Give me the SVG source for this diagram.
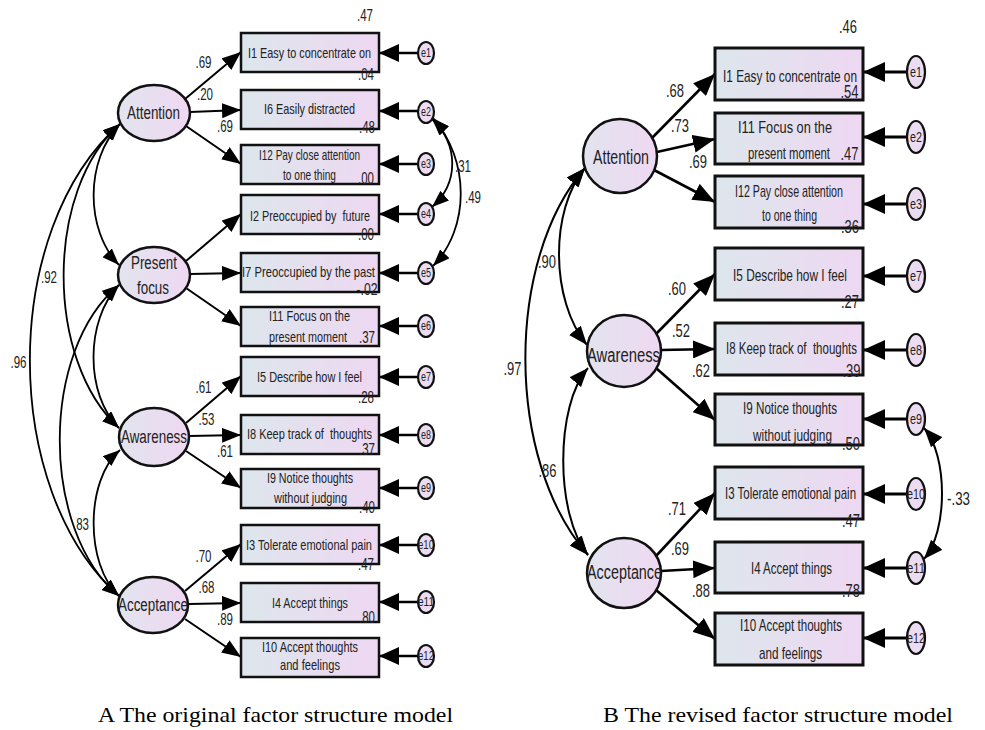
<svg xmlns="http://www.w3.org/2000/svg" width="985" height="730" viewBox="0 0 985 730">
<style>
.bx{fill:url(#gb);stroke:#111;stroke-width:2.5}
.bxB{fill:url(#gb);stroke:#111;stroke-width:3}
.el{fill:url(#ge);stroke:#111;stroke-width:2.5}
.er{fill:#ecdcf2;stroke:#111;stroke-width:2.2}
.ld{stroke:#000;stroke-width:2;fill:none;marker-end:url(#mA)}
.ldB{stroke:#000;stroke-width:2.6;fill:none;marker-end:url(#mB)}
.ea{stroke:#000;stroke-width:2.5;fill:none;marker-end:url(#mEA)}
.eaB{stroke:#000;stroke-width:3;fill:none;marker-end:url(#mEB)}
.cv{stroke:#000;stroke-width:1.8;fill:none;marker-start:url(#mC);marker-end:url(#mC)}
.cvB{stroke:#000;stroke-width:2;fill:none;marker-start:url(#mCB);marker-end:url(#mCB)}
text{font-family:"Liberation Sans",Arial,sans-serif;fill:#222;text-anchor:middle}
.t15{font-size:15px}
.t17{font-size:17px}
.t18{font-size:18px}
.t19{font-size:20px}
.n{font-size:17px}
.nB{font-size:19px}
.e{font-size:12px}
.eB{font-size:15px}
.cap{font-family:"Liberation Serif","Times New Roman",serif;font-size:21px;fill:#000;text-anchor:start}
.pre{white-space:pre}
</style>
<defs>
<linearGradient id="gb" x1="0" y1="0" x2="1" y2="0">
<stop offset="0" stop-color="#dde6ec"/>
<stop offset="1" stop-color="#eed8f2"/>
</linearGradient>
<linearGradient id="ge" x1="0" y1="0" x2="1" y2="0">
<stop offset="0" stop-color="#e2e4ef"/>
<stop offset="1" stop-color="#efd8f2"/>
</linearGradient>
<marker id="mA" viewBox="0 0 19 15" refX="19" refY="7.5" markerWidth="19" markerHeight="15" markerUnits="userSpaceOnUse" orient="auto"><path d="M0,0L19,7.5L0,15z" fill="#000"/></marker>
<marker id="mB" viewBox="0 0 22 18" refX="22" refY="9" markerWidth="22" markerHeight="18" markerUnits="userSpaceOnUse" orient="auto"><path d="M0,0L22,9L0,18z" fill="#000"/></marker>
<marker id="mEA" viewBox="0 0 20 18" refX="20" refY="9" markerWidth="20" markerHeight="18" markerUnits="userSpaceOnUse" orient="auto"><path d="M0,0L20,9L0,18z" fill="#000"/></marker>
<marker id="mEB" viewBox="0 0 22 20" refX="22" refY="10" markerWidth="22" markerHeight="20" markerUnits="userSpaceOnUse" orient="auto"><path d="M0,0L22,10L0,20z" fill="#000"/></marker>
<marker id="mC" viewBox="0 0 17 13" refX="17" refY="6.5" markerWidth="17" markerHeight="13" markerUnits="userSpaceOnUse" orient="auto-start-reverse"><path d="M0,0L17,6.5L0,13z" fill="#000"/></marker>
<marker id="mCB" viewBox="0 0 19 15" refX="19" refY="7.5" markerWidth="19" markerHeight="15" markerUnits="userSpaceOnUse" orient="auto-start-reverse"><path d="M0,0L19,7.5L0,15z" fill="#000"/></marker>
</defs>
<rect width="985" height="730" fill="#fff"/>

<g id="connectors">
<path class="ld" d="M185,99L241,52"/>
<path class="ld" d="M190,112L241,110"/>
<path class="ld" d="M186,126L241,164"/>
<path class="ld" d="M186,261L241,214"/>
<path class="ld" d="M190,274L241,273"/>
<path class="ld" d="M186,288L241,326"/>
<path class="ld" d="M186,423L241,376"/>
<path class="ld" d="M189,436L241,435"/>
<path class="ld" d="M186,451L241,488"/>
<path class="ld" d="M185,591L241,544"/>
<path class="ld" d="M189,604L241,603"/>
<path class="ld" d="M185,619L241,657"/>
<path class="ea" d="M418,53L379,53"/>
<path class="ea" d="M418,111L379,111"/>
<path class="ea" d="M418,164L379,164"/>
<path class="ea" d="M418,214L379,214"/>
<path class="ea" d="M418,273L379,273"/>
<path class="ea" d="M418,326L379,326"/>
<path class="ea" d="M418,377L379,377"/>
<path class="ea" d="M418,435L379,435"/>
<path class="ea" d="M418,488L379,488"/>
<path class="ea" d="M418,545L379,545"/>
<path class="ea" d="M418,602L379,602"/>
<path class="ea" d="M418,656L379,656"/>
<path class="cv" d="M120,124C85,160 85,230 119,265"/>
<path class="cv" d="M120,124C45,190 45,360 119,428"/>
<path class="cv" d="M120,124C0,230 0,490 119,596"/>
<path class="cv" d="M119,285C85,320 85,395 119,428"/>
<path class="cv" d="M119,285C40,350 40,530 119,596"/>
<path class="cv" d="M120,450C85,480 85,565 119,596"/>
<path class="cv" d="M432,119C459,145 459,183 432,207"/>
<path class="cv" d="M433,118C470,160 470,228 433,266"/>
<path class="ldB" d="M652,138L715,74"/>
<path class="ldB" d="M657,152L715,139"/>
<path class="ldB" d="M654,170L715,202"/>
<path class="ldB" d="M656,334L715,274"/>
<path class="ldB" d="M661,350L715,349"/>
<path class="ldB" d="M656,368L715,420"/>
<path class="ldB" d="M656,556L715,493"/>
<path class="ldB" d="M661,571L715,568"/>
<path class="ldB" d="M656,590L715,639"/>
<path class="eaB" d="M907,72L863,72"/>
<path class="eaB" d="M907,137L863,137"/>
<path class="eaB" d="M907,204L863,204"/>
<path class="eaB" d="M907,276L863,276"/>
<path class="eaB" d="M907,350L863,350"/>
<path class="eaB" d="M907,419L863,419"/>
<path class="eaB" d="M907,494L863,494"/>
<path class="eaB" d="M907,568L863,568"/>
<path class="eaB" d="M907,638L863,638"/>
<path class="cvB" d="M585,168C550,210 550,300 587,345"/>
<path class="cvB" d="M585,168C505,260 505,460 588,555"/>
<path class="cvB" d="M588,368C555,405 555,515 588,555"/>
<path class="cvB" d="M924,428C948,455 948,532 924,559"/>
</g>

<g id="A_Attention"><ellipse class="el" cx="154" cy="113" rx="36" ry="28"/><text class="t18" x="153.5" y="119" textLength="53" lengthAdjust="spacingAndGlyphs">Attention</text></g>
<g id="A_PresentFocus"><ellipse class="el" cx="154" cy="275" rx="36" ry="28"/><text class="t18" x="154" y="269" textLength="46" lengthAdjust="spacingAndGlyphs">Present</text><text class="t18" x="153" y="294" textLength="32" lengthAdjust="spacingAndGlyphs">focus</text></g>
<g id="A_Awareness"><ellipse class="el" cx="154" cy="437" rx="35" ry="29"/><text class="t18" x="154" y="443" textLength="66" lengthAdjust="spacingAndGlyphs">Awareness</text></g>
<g id="A_Acceptance"><ellipse class="el" cx="153" cy="605" rx="35" ry="28"/><text class="t18" x="153" y="611" textLength="70" lengthAdjust="spacingAndGlyphs">Acceptance</text></g>

<g id="A_I1"><rect class="bx" x="241" y="33" width="138" height="39"/><text class="t15" x="309.5" y="58" textLength="123" lengthAdjust="spacingAndGlyphs">I1 Easy to concentrate on</text></g>
<g id="A_I6"><rect class="bx" x="241" y="90" width="138" height="39"/><text class="t15" x="309.5" y="114" textLength="91" lengthAdjust="spacingAndGlyphs">I6 Easily distracted</text></g>
<g id="A_I12"><rect class="bx" x="241" y="145" width="138" height="39"/><text class="t15" x="309.5" y="160" textLength="101" lengthAdjust="spacingAndGlyphs">I12 Pay close attention</text><text class="t15" x="309.5" y="180" textLength="53" lengthAdjust="spacingAndGlyphs">to one thing</text></g>
<g id="A_I2"><rect class="bx" x="241" y="195" width="138" height="39"/><text class="t15 pre" x="310" y="221" textLength="120" lengthAdjust="spacingAndGlyphs">I2 Preoccupied by  future</text></g>
<g id="A_I7"><rect class="bx" x="241" y="253" width="138" height="39"/><text class="t15" x="308.5" y="277" textLength="133" lengthAdjust="spacingAndGlyphs">I7 Preoccupied by the past</text></g>
<g id="A_I11"><rect class="bx" x="241" y="307" width="138" height="39"/><text class="t15" x="309.5" y="321" textLength="81" lengthAdjust="spacingAndGlyphs">I11 Focus on the</text><text class="t15" x="308" y="342" textLength="78" lengthAdjust="spacingAndGlyphs">present moment</text></g>
<g id="A_I5"><rect class="bx" x="241" y="357" width="138" height="39"/><text class="t15" x="309.5" y="382" textLength="105" lengthAdjust="spacingAndGlyphs">I5 Describe how I feel</text></g>
<g id="A_I8"><rect class="bx" x="241" y="415" width="138" height="39"/><text class="t15 pre" x="309.5" y="439" textLength="125" lengthAdjust="spacingAndGlyphs">I8 Keep track of  thoughts</text></g>
<g id="A_I9"><rect class="bx" x="241" y="469" width="138" height="39"/><text class="t15" x="310" y="483" textLength="86" lengthAdjust="spacingAndGlyphs">I9 Notice thoughts</text><text class="t15" x="310.5" y="503" textLength="73" lengthAdjust="spacingAndGlyphs">without judging</text></g>
<g id="A_I3"><rect class="bx" x="241" y="525" width="138" height="39"/><text class="t15" x="309" y="550" textLength="126" lengthAdjust="spacingAndGlyphs">I3 Tolerate emotional pain</text></g>
<g id="A_I4"><rect class="bx" x="241" y="583" width="138" height="39"/><text class="t15" x="310" y="608" textLength="76" lengthAdjust="spacingAndGlyphs">I4 Accept things</text></g>
<g id="A_I10"><rect class="bx" x="241" y="638" width="138" height="39"/><text class="t15" x="310" y="652" textLength="96" lengthAdjust="spacingAndGlyphs">I10 Accept thoughts</text><text class="t15" x="310" y="670" textLength="60" lengthAdjust="spacingAndGlyphs">and feelings</text></g>

<g id="A_e1"><ellipse class="er" cx="426" cy="53" rx="8" ry="11"/><text class="e" x="426" y="57" textLength="10" lengthAdjust="spacingAndGlyphs">e1</text></g>
<g id="A_e2"><ellipse class="er" cx="426" cy="112" rx="8" ry="11"/><text class="e" x="426" y="116" textLength="10" lengthAdjust="spacingAndGlyphs">e2</text></g>
<g id="A_e3"><ellipse class="er" cx="426" cy="164" rx="8" ry="11"/><text class="e" x="426" y="168" textLength="10" lengthAdjust="spacingAndGlyphs">e3</text></g>
<g id="A_e4"><ellipse class="er" cx="426" cy="214" rx="8" ry="11"/><text class="e" x="426" y="218" textLength="10" lengthAdjust="spacingAndGlyphs">e4</text></g>
<g id="A_e5"><ellipse class="er" cx="426" cy="273" rx="8" ry="11"/><text class="e" x="426" y="277" textLength="10" lengthAdjust="spacingAndGlyphs">e5</text></g>
<g id="A_e6"><ellipse class="er" cx="426" cy="326" rx="8" ry="11"/><text class="e" x="426" y="330" textLength="10" lengthAdjust="spacingAndGlyphs">e6</text></g>
<g id="A_e7"><ellipse class="er" cx="426" cy="377" rx="8" ry="11"/><text class="e" x="426" y="381" textLength="10" lengthAdjust="spacingAndGlyphs">e7</text></g>
<g id="A_e8"><ellipse class="er" cx="426" cy="435" rx="8" ry="11"/><text class="e" x="426" y="439" textLength="10" lengthAdjust="spacingAndGlyphs">e8</text></g>
<g id="A_e9"><ellipse class="er" cx="426" cy="488" rx="8" ry="11"/><text class="e" x="426" y="492" textLength="10" lengthAdjust="spacingAndGlyphs">e9</text></g>
<g id="A_e10"><ellipse class="er" cx="426" cy="545" rx="8" ry="11"/><text class="e" x="426" y="549" textLength="16" lengthAdjust="spacingAndGlyphs">e10</text></g>
<g id="A_e11"><ellipse class="er" cx="426" cy="602" rx="8" ry="11"/><text class="e" x="426" y="606" textLength="16" lengthAdjust="spacingAndGlyphs">e11</text></g>
<g id="A_e12"><ellipse class="er" cx="426" cy="656" rx="8" ry="11"/><text class="e" x="426" y="660" textLength="16" lengthAdjust="spacingAndGlyphs">e12</text></g>

<g id="B_Attention"><ellipse class="el" cx="620" cy="156" rx="37" ry="37"/><text class="t19" x="621" y="164" textLength="56" lengthAdjust="spacingAndGlyphs">Attention</text></g>
<g id="B_Awareness"><ellipse class="el" cx="624" cy="351" rx="37" ry="36"/><text class="t19" x="623.5" y="362" textLength="73" lengthAdjust="spacingAndGlyphs">Awareness</text></g>
<g id="B_Acceptance"><ellipse class="el" cx="624" cy="573" rx="37" ry="35"/><text class="t19" x="624.5" y="579" textLength="75" lengthAdjust="spacingAndGlyphs">Acceptance</text></g>

<g id="B_I1"><rect class="bxB" x="715" y="48" width="148" height="52"/><text class="t17" x="790" y="82" textLength="134" lengthAdjust="spacingAndGlyphs">I1 Easy to concentrate on</text></g>
<g id="B_I11"><rect class="bxB" x="715" y="113" width="148" height="51"/><text class="t17" x="785" y="133" textLength="94" lengthAdjust="spacingAndGlyphs">I11 Focus on the</text><text class="t17" x="789" y="159" textLength="82" lengthAdjust="spacingAndGlyphs">present moment</text></g>
<g id="B_I12"><rect class="bxB" x="715" y="176" width="148" height="52"/><text class="t17" x="789" y="197" textLength="108" lengthAdjust="spacingAndGlyphs">I12 Pay close attention</text><text class="t17" x="789.5" y="221" textLength="55" lengthAdjust="spacingAndGlyphs">to one thing</text></g>
<g id="B_I5"><rect class="bxB" x="715" y="248" width="148" height="52"/><text class="t17" x="790" y="281" textLength="114" lengthAdjust="spacingAndGlyphs">I5 Describe how I feel</text></g>
<g id="B_I8"><rect class="bxB" x="715" y="323" width="148" height="52"/><text class="t17 pre" x="791.5" y="354" textLength="131" lengthAdjust="spacingAndGlyphs">I8 Keep track of  thoughts</text></g>
<g id="B_I9"><rect class="bxB" x="715" y="394" width="148" height="51"/><text class="t17" x="790" y="414" textLength="94" lengthAdjust="spacingAndGlyphs">I9 Notice thoughts</text><text class="t17" x="792.5" y="441" textLength="79" lengthAdjust="spacingAndGlyphs">without judging</text></g>
<g id="B_I3"><rect class="bxB" x="715" y="467" width="148" height="52"/><text class="t17" x="790.5" y="499" textLength="131" lengthAdjust="spacingAndGlyphs">I3 Tolerate emotional pain</text></g>
<g id="B_I4"><rect class="bxB" x="715" y="542" width="148" height="51"/><text class="t17" x="791.5" y="574" textLength="81" lengthAdjust="spacingAndGlyphs">I4 Accept things</text></g>
<g id="B_I10"><rect class="bxB" x="715" y="613" width="148" height="52"/><text class="t17" x="791" y="631" textLength="102" lengthAdjust="spacingAndGlyphs">I10 Accept thoughts</text><text class="t17" x="790.5" y="659" textLength="63" lengthAdjust="spacingAndGlyphs">and feelings</text></g>

<g id="B_e1"><ellipse class="er" cx="916" cy="72" rx="9" ry="16"/><text class="eB" x="916" y="77" textLength="12" lengthAdjust="spacingAndGlyphs">e1</text></g>
<g id="B_e2"><ellipse class="er" cx="916" cy="137" rx="9" ry="16"/><text class="eB" x="916" y="142" textLength="12" lengthAdjust="spacingAndGlyphs">e2</text></g>
<g id="B_e3"><ellipse class="er" cx="916" cy="204" rx="9" ry="16"/><text class="eB" x="916" y="209" textLength="12" lengthAdjust="spacingAndGlyphs">e3</text></g>
<g id="B_e7"><ellipse class="er" cx="916" cy="276" rx="9" ry="16"/><text class="eB" x="916" y="281" textLength="12" lengthAdjust="spacingAndGlyphs">e7</text></g>
<g id="B_e8"><ellipse class="er" cx="916" cy="350" rx="9" ry="16"/><text class="eB" x="916" y="355" textLength="12" lengthAdjust="spacingAndGlyphs">e8</text></g>
<g id="B_e9"><ellipse class="er" cx="916" cy="419" rx="9" ry="16"/><text class="eB" x="916" y="424" textLength="12" lengthAdjust="spacingAndGlyphs">e9</text></g>
<g id="B_e10"><ellipse class="er" cx="916" cy="494" rx="9" ry="16"/><text class="eB" x="916" y="499" textLength="18" lengthAdjust="spacingAndGlyphs">e10</text></g>
<g id="B_e11"><ellipse class="er" cx="916" cy="568" rx="9" ry="16"/><text class="eB" x="916" y="573" textLength="18" lengthAdjust="spacingAndGlyphs">e11</text></g>
<g id="B_e12"><ellipse class="er" cx="916" cy="638" rx="9" ry="16"/><text class="eB" x="916" y="643" textLength="18" lengthAdjust="spacingAndGlyphs">e12</text></g>

<g id="labels">
<text class="n" x="365" y="21" textLength="16" lengthAdjust="spacingAndGlyphs">.47</text>
<text class="n" x="366" y="80" textLength="16" lengthAdjust="spacingAndGlyphs">.04</text>
<text class="n" x="367" y="133" textLength="16" lengthAdjust="spacingAndGlyphs">.48</text>
<text class="n" x="366" y="184" textLength="16" lengthAdjust="spacingAndGlyphs">.00</text>
<text class="n" x="366" y="240" textLength="16" lengthAdjust="spacingAndGlyphs">.00</text>
<text class="n" x="367" y="295" textLength="21" lengthAdjust="spacingAndGlyphs">-.02</text>
<text class="n" x="367" y="343" textLength="16" lengthAdjust="spacingAndGlyphs">.37</text>
<text class="n" x="366" y="403" textLength="16" lengthAdjust="spacingAndGlyphs">.28</text>
<text class="n" x="367" y="455" textLength="16" lengthAdjust="spacingAndGlyphs">.37</text>
<text class="n" x="367" y="513" textLength="16" lengthAdjust="spacingAndGlyphs">.40</text>
<text class="n" x="366" y="570" textLength="16" lengthAdjust="spacingAndGlyphs">.47</text>
<text class="n" x="367" y="623" textLength="16" lengthAdjust="spacingAndGlyphs">.80</text>
<text class="n" x="203.5" y="68" textLength="16" lengthAdjust="spacingAndGlyphs">.69</text>
<text class="n" x="205" y="100" textLength="16" lengthAdjust="spacingAndGlyphs">.20</text>
<text class="n" x="225" y="132" textLength="16" lengthAdjust="spacingAndGlyphs">.69</text>
<text class="n" x="203.5" y="393" textLength="16" lengthAdjust="spacingAndGlyphs">.61</text>
<text class="n" x="206.5" y="425" textLength="16" lengthAdjust="spacingAndGlyphs">.53</text>
<text class="n" x="225" y="457" textLength="16" lengthAdjust="spacingAndGlyphs">.61</text>
<text class="n" x="203.5" y="562" textLength="16" lengthAdjust="spacingAndGlyphs">.70</text>
<text class="n" x="206.5" y="593" textLength="16" lengthAdjust="spacingAndGlyphs">.68</text>
<text class="n" x="225" y="625" textLength="16" lengthAdjust="spacingAndGlyphs">.89</text>
<text class="n" x="49" y="283" textLength="16" lengthAdjust="spacingAndGlyphs">.92</text>
<text class="n" x="18.5" y="368" textLength="16" lengthAdjust="spacingAndGlyphs">.96</text>
<text class="n" x="81" y="530" textLength="16" lengthAdjust="spacingAndGlyphs">.83</text>
<text class="n" x="463" y="172" textLength="16" lengthAdjust="spacingAndGlyphs">.31</text>
<text class="n" x="473" y="203" textLength="16" lengthAdjust="spacingAndGlyphs">.49</text>
<text class="nB" x="848" y="33" textLength="18" lengthAdjust="spacingAndGlyphs">.46</text>
<text class="nB" x="849.5" y="98" textLength="18" lengthAdjust="spacingAndGlyphs">.54</text>
<text class="nB" x="849.5" y="160" textLength="18" lengthAdjust="spacingAndGlyphs">.47</text>
<text class="nB" x="850" y="233" textLength="18" lengthAdjust="spacingAndGlyphs">.36</text>
<text class="nB" x="850" y="308" textLength="18" lengthAdjust="spacingAndGlyphs">.27</text>
<text class="nB" x="851.5" y="377" textLength="18" lengthAdjust="spacingAndGlyphs">.39</text>
<text class="nB" x="851" y="450" textLength="18" lengthAdjust="spacingAndGlyphs">.50</text>
<text class="nB" x="851" y="527" textLength="18" lengthAdjust="spacingAndGlyphs">.47</text>
<text class="nB" x="851" y="597" textLength="18" lengthAdjust="spacingAndGlyphs">.78</text>
<text class="nB" x="675" y="97" textLength="18" lengthAdjust="spacingAndGlyphs">.68</text>
<text class="nB" x="680" y="132" textLength="18" lengthAdjust="spacingAndGlyphs">.73</text>
<text class="nB" x="698" y="168" textLength="18" lengthAdjust="spacingAndGlyphs">.69</text>
<text class="nB" x="677" y="295" textLength="18" lengthAdjust="spacingAndGlyphs">.60</text>
<text class="nB" x="681" y="337" textLength="18" lengthAdjust="spacingAndGlyphs">.52</text>
<text class="nB" x="701" y="377" textLength="18" lengthAdjust="spacingAndGlyphs">.62</text>
<text class="nB" x="677" y="515" textLength="18" lengthAdjust="spacingAndGlyphs">.71</text>
<text class="nB" x="680" y="555" textLength="18" lengthAdjust="spacingAndGlyphs">.69</text>
<text class="nB" x="701" y="597" textLength="18" lengthAdjust="spacingAndGlyphs">.88</text>
<text class="nB" x="547" y="268" textLength="18" lengthAdjust="spacingAndGlyphs">.90</text>
<text class="nB" x="512.5" y="375" textLength="18" lengthAdjust="spacingAndGlyphs">.97</text>
<text class="nB" x="547.5" y="477" textLength="18" lengthAdjust="spacingAndGlyphs">.86</text>
<text class="nB" x="958.5" y="505" textLength="23" lengthAdjust="spacingAndGlyphs">-.33</text>
<text class="cap" x="98" y="722" textLength="355" lengthAdjust="spacingAndGlyphs">A The original factor structure model</text>
<text class="cap" x="603" y="722" textLength="350" lengthAdjust="spacingAndGlyphs">B The revised factor structure model</text>
</g>
</svg>
